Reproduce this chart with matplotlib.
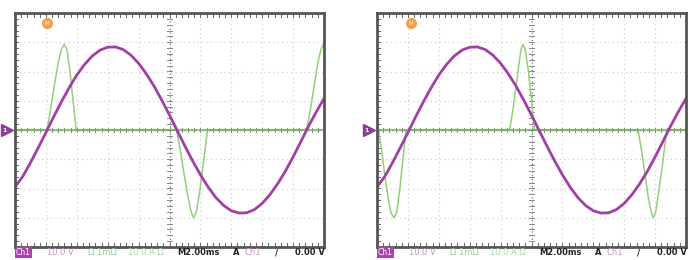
import matplotlib.pyplot as plt
import numpy as np

# screen units: 10 x 8 divisions, centre at (5, 0)
# Ch1 voltage (magenta), same in both captures
volt_x = [0, 0.25, 0.5, 0.75, 1.0, 1.25, 1.5, 1.75, 2.0, 2.25, 2.5, 2.75, 3.0, 3.25,
          3.5, 3.75, 4.0, 4.25, 4.5, 4.75, 5.0, 5.25, 5.5, 5.75, 6.0, 6.25, 6.5,
          6.75, 7.0, 7.25, 7.5, 7.75, 8.0, 8.25, 8.5, 8.75, 9.0, 9.25, 9.5, 9.75, 10.0]
volt_y = [-1.95, -1.59, -1.12, -0.61, -0.09, 0.45, 0.96, 1.44, 1.88, 2.24, 2.53, 2.73,
          2.83, 2.84, 2.75, 2.56, 2.28, 1.92, 1.50, 1.02, 0.51, -0.02, -0.55, -1.06,
          -1.53, -1.95, -2.31, -2.58, -2.76, -2.84, -2.83, -2.72, -2.51, -2.21, -1.84,
          -1.41, -0.92, -0.40, 0.13, 0.62, 1.08]

# Ch2 current (green), left capture
cur1_x = [0, 1.04, 1.15, 1.27, 1.4, 1.5, 1.59, 1.68, 1.78, 1.88, 1.98,
          5.23, 5.35, 5.47, 5.6, 5.7, 5.78, 5.87, 5.98, 6.1, 6.23,
          9.44, 9.56, 9.68, 9.8, 9.9, 9.98, 10.0]
cur1_y = [0, 0, 0.7, 1.5, 2.3, 2.75, 2.93, 2.75, 2.0, 1.0, 0,
          0, -0.7, -1.5, -2.3, -2.8, -3.0, -2.8, -2.1, -1.1, 0,
          0, 0.7, 1.5, 2.3, 2.75, 2.93, 2.9]

# Ch2 current (green), right capture
cur2_x = [0, 0.05, 0.15, 0.26, 0.37, 0.46, 0.55, 0.64, 0.74, 0.84, 0.94,
          4.29, 4.4, 4.5, 4.6, 4.66, 4.72, 4.8, 4.9, 5.0, 5.1,
          8.45, 8.56, 8.67, 8.78, 8.87, 8.94, 9.02, 9.12, 9.25, 9.37, 10.0]
cur2_y = [0, 0, -0.7, -1.6, -2.4, -2.85, -3.0, -2.8, -2.0, -1.0, 0,
          0, 0.7, 1.5, 2.3, 2.75, 2.93, 2.75, 2.0, 1.0, 0,
          0, -0.7, -1.5, -2.3, -2.8, -3.0, -2.8, -2.1, -1.1, 0, 0]

trig_x = [1.04, 1.1]

status_texts = ["10.0 V", "Ω 1mΩ", "10.0 A Ω", "M2.00ms", "A", "Ch1", "/", "0.00 V"]
status_pos = [0.104, 0.236, 0.366, 0.524, 0.706, 0.744, 0.841, 0.906]
status_cols = ["#c58fc5", "#8fcf9a", "#9fd9a8", "#222222", "#222222", "#c58fc5", "#222222", "#222222"]
status_bold = [False, False, False, True, True, False, True, True]

fig = plt.figure(figsize=(6.89, 2.60), dpi=100)
W, H = 689, 260


def scope(left_px, cur_x, cur_y, tx):
    ax = fig.add_axes([left_px / W, 13 / H, 309 / W, 234 / H])
    ax.set_xlim(0, 10)
    ax.set_ylim(-4, 4)
    ax.set_xticks([])
    ax.set_yticks([])
    for s in ax.spines.values():
        s.set_color("#555555")
        s.set_linewidth(2)
    # dotted grid
    for gx in range(1, 10):
        if gx != 5:
            ax.axvline(gx, color="#c8c8c8", lw=0.8, ls=(0, (1, 3)))
    for gy in range(-3, 4):
        if gy != 0:
            ax.axhline(gy, color="#c8c8c8", lw=0.8, ls=(0, (1, 3)))
    ax.axvline(5, color="#777777", lw=0.9, ls=(0, (1, 2)))
    ax.axhline(0, color="#999999", lw=0.9, ls=(0, (1, 2)))
    # minor ticks on centre lines and frame
    mx = np.arange(0, 10.01, 0.2)
    my = np.arange(-4, 4.01, 0.2)
    ax.plot(np.repeat(mx, 3), np.tile([0.07, -0.07, np.nan], len(mx)), color="#888888", lw=0.7)
    ax.plot(np.tile([4.93, 5.07, np.nan], len(my)), np.repeat(my, 3), color="#888888", lw=0.7)
    ax.plot(np.repeat(mx, 3), np.tile([-4, -3.85, np.nan], len(mx)), color="#666666", lw=0.7)
    ax.plot(np.tile([0, 0.1, np.nan], len(my)), np.repeat(my, 3), color="#666666", lw=0.7)
    ax.plot(np.repeat(mx, 3), np.tile([4, 3.85, np.nan], len(mx)), color="#666666", lw=0.7)

    ax.plot(cur_x, cur_y, color="#92d07a", lw=1.1)
    ax.plot([0, 10], [0, 0], color="#6aa84f", lw=1.6, alpha=0.7)
    ax.plot(volt_x, volt_y, color="#a23fa6", lw=2.0)

    # trigger position marker
    ax.plot(tx, 3.65, "o", color="#f0a050", ms=7, clip_on=False)
    ax.text(tx, 3.65, "M", color="#ffffff", fontsize=4, ha="center", va="center")
    # channel 1 ground marker
    ax.plot(-0.25, 0, marker=">", color="#8a3c96", ms=8, clip_on=False)
    ax.text(-0.33, 0, "1", color="white", fontsize=4.5, ha="center", va="center",
            fontweight="bold", clip_on=False)

    # status bar
    ax.text(0.03, -4.2, "Ch1", color="white", fontsize=5.5, va="center", ha="left",
            bbox=dict(boxstyle="square,pad=0.15", fc="#b040b0", ec="none"), clip_on=False)
    for t, p, c, b in zip(status_texts, status_pos, status_cols, status_bold):
        ax.text(p * 10, -4.2, t, color=c, fontsize=6, va="center", ha="left",
                fontweight="bold" if b else "normal", clip_on=False)
    return ax


scope(15, cur1_x, cur1_y, trig_x[0])
scope(377, cur2_x, cur2_y, trig_x[1])

fig.savefig("out.png", dpi=100, facecolor="white")
